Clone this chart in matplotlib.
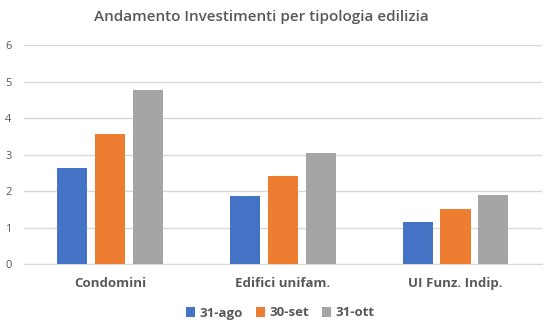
import matplotlib.pyplot as plt
import numpy as np

categories = ['Condomini', 'Edifici unifam.', 'UI Funz. Indip.']
series = ['31-ago', '30-set', '31-ott']
values_ago = [2.64, 1.87, 1.16]
values_set = [3.57, 2.42, 1.51]
values_ott = [4.77, 3.05, 1.90]
colors = ['#4472C4', '#ED7D31', '#A5A5A5']

plt.rcParams['font.family'] = ['Open Sans', 'DejaVu Sans']
grey = '#595959'

fig = plt.figure(figsize=(5.54, 3.31), dpi=100)
ax = fig.add_axes([0.0433, 0.2015, 0.9347, 0.6615])

x = np.arange(len(categories))
w = 0.174
off = 0.22
for i, (vals, lab) in enumerate(zip([values_ago, values_set, values_ott], series)):
    ax.bar(x + (i - 1) * off, vals, width=w, color=colors[i], label=lab, zorder=3)

ax.set_xlim(-0.5, 2.5)
ax.set_ylim(0, 6)
ax.set_yticks(range(7))
ax.grid(axis='y', color='#D9D9D9', linewidth=1, zorder=0)
for s in ['top', 'right', 'left']:
    ax.spines[s].set_visible(False)
ax.spines['bottom'].set_color('#D9D9D9')
ax.tick_params(axis='both', length=0)
ax.tick_params(axis='y', labelsize=8, labelcolor=grey, pad=9)
ax.set_xticks(x)
ax.set_xticklabels(categories, fontsize=9.5, fontweight='bold', color=grey)
ax.tick_params(axis='x', pad=9)

fig.text(261 / 554, 1 - 17 / 331, 'Andamento Investimenti per tipologia edilizia',
         ha='center', va='center', fontsize=11, fontweight='semibold', color=grey)

fig.legend(loc='center', bbox_to_anchor=(280 / 554, 1 - 313 / 331), ncol=3, frameon=False,
           handlelength=0.7, handleheight=0.7, handletextpad=0.3, columnspacing=1.0,
           prop={'size': 9.5, 'weight': 'bold'}, labelcolor=grey)

fig.savefig('out.png', dpi=100)
